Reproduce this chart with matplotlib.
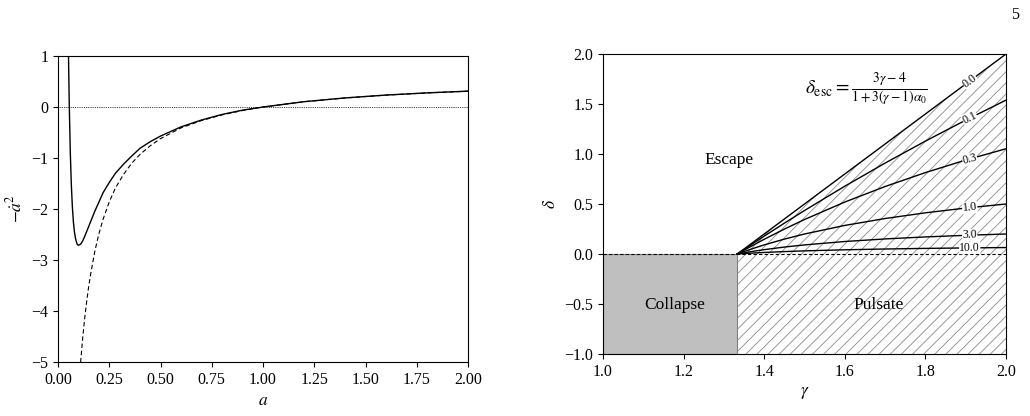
import numpy as np
import matplotlib
matplotlib.use("Agg")
import matplotlib.pyplot as plt
from matplotlib.patches import Polygon, Rectangle

plt.rcParams['font.family'] = ['Liberation Serif', 'DejaVu Serif']
plt.rcParams['mathtext.fontset'] = 'stix'
plt.rcParams['font.size'] = 11.5
plt.rcParams['hatch.linewidth'] = 0.6
plt.rcParams['axes.linewidth'] = 0.8

# left panel: -adot^2 against a
a_full = [0.050, 0.052, 0.055, 0.060, 0.065, 0.070, 0.075, 0.080, 0.085, 0.090,
          0.095, 0.100, 0.110, 0.120, 0.130, 0.140, 0.160, 0.180, 0.200, 0.220,
          0.250, 0.280, 0.320, 0.360, 0.400, 0.450, 0.500, 0.600, 0.700, 0.800,
          0.900, 1.000, 1.200, 1.400, 1.600, 1.800, 2.000]
adot_full = [1.40, 0.78, 0.03, -0.89, -1.52, -1.95, -2.25, -2.44, -2.57, -2.65,
             -2.70, -2.71, -2.69, -2.63, -2.54, -2.44, -2.24, -2.04, -1.86, -1.68,
             -1.48, -1.30, -1.12, -0.96, -0.81, -0.68, -0.57, -0.39, -0.255, -0.146,
             -0.062, 0.0, 0.104, 0.178, 0.234, 0.277, 0.311]

a_approx = [0.105, 0.110, 0.120, 0.130, 0.140, 0.150, 0.160, 0.180, 0.200, 0.220,
            0.250, 0.280, 0.320, 0.360, 0.400, 0.450, 0.500, 0.600, 0.700, 0.800,
            0.900, 1.000, 1.200, 1.400, 1.600, 1.800, 2.000]
adot_approx = [-5.29, -5.02, -4.55, -4.15, -3.81, -3.51, -3.26, -2.82, -2.48, -2.20,
               -1.86, -1.59, -1.32, -1.10, -0.93, -0.76, -0.62, -0.41, -0.266, -0.155,
               -0.069, 0.0, 0.103, 0.177, 0.233, 0.276, 0.310]

# right panel: escape threshold curves for several alpha_0
gamma = [1.3333, 1.35, 1.375, 1.4, 1.45, 1.5, 1.6, 1.7, 1.8, 1.9, 2.0]
alpha0_labels = ['0.0', '0.1', '0.3', '1.0', '3.0', '10.0']
delta_esc = [
    [0, 0.050, 0.125, 0.200, 0.350, 0.500, 0.800, 1.100, 1.400, 1.700, 2.000],
    [0, 0.0452, 0.1124, 0.1786, 0.3084, 0.4348, 0.6780, 0.9091, 1.1290, 1.3386, 1.5385],
    [0, 0.0380, 0.0935, 0.1471, 0.2491, 0.3448, 0.5195, 0.6748, 0.8140, 0.9392, 1.0526],
    [0, 0.0244, 0.0588, 0.0909, 0.1489, 0.2000, 0.2857, 0.3548, 0.4118, 0.4595, 0.5000],
    [0, 0.0120, 0.0286, 0.0435, 0.0693, 0.0909, 0.1250, 0.1507, 0.1707, 0.1868, 0.2000],
    [0, 0.0043, 0.0102, 0.0154, 0.0241, 0.0313, 0.0421, 0.0500, 0.0560, 0.0607, 0.0645],
]
label_gamma = 1.91


def fmt(vals, spec):
    return [(spec % v).replace('-', '\u2212') for v in vals]


fig = plt.figure(figsize=(10.3, 4.16), dpi=100)

# ---- left panel ----
ax1 = fig.add_axes([58/1030, 54/416, 410/1030, 306/416])
ax1.plot(a_full, adot_full, color='black', lw=1.0)
ax1.plot(a_approx, adot_approx, color='black', lw=0.8, ls=(0, (4, 2.5)))
ax1.axhline(0, color='black', lw=0.6, ls=(0, (1, 1.2)))
ax1.set_xlim(0, 2)
ax1.set_ylim(-5, 1)
xt = np.arange(0, 2.01, 0.25)
ax1.set_xticks(xt)
ax1.set_xticklabels(fmt(xt, '%.2f'))
ax1.set_yticks(range(-5, 2))
ax1.set_xlabel('$a$', fontsize=12.5)
ax1.set_ylabel(r'$-\dot{a}^2$', fontsize=12.5)

# ---- right panel ----
ax2 = fig.add_axes([603/1030, 62/416, 403/1030, 300/416])
ax2.set_xlim(1.0, 2.0)
ax2.set_ylim(-1.0, 2.0)

g0 = gamma[0]
ax2.add_patch(Rectangle((1.0, -1.0), g0 - 1.0, 1.0, facecolor='#bfbfbf',
                        edgecolor='#808080', lw=0.8, zorder=1))
verts = [(g0, -1.0), (2.0, -1.0)] + list(zip(gamma[::-1], delta_esc[0][::-1]))
ax2.add_patch(Polygon(verts, closed=True, facecolor='none', edgecolor='#8a8a8a',
                      hatch='///', lw=0, zorder=1))
ax2.plot([1.0, 2.0], [0, 0], color='black', lw=0.8, ls=(0, (3, 2)), zorder=2)

for vals, lab in zip(delta_esc, alpha0_labels):
    ax2.plot(gamma, vals, color='black', lw=1.0, zorder=3)

fig.canvas.draw()
for vals, lab in zip(delta_esc, alpha0_labels):
    p1 = ax2.transData.transform((gamma[-2], vals[-2]))
    p2 = ax2.transData.transform((gamma[-1], vals[-1]))
    ang = np.degrees(np.arctan2(p2[1] - p1[1], p2[0] - p1[0]))
    yv = vals[-2] + (vals[-1] - vals[-2]) * (label_gamma - gamma[-2]) / (gamma[-1] - gamma[-2])
    ax2.text(label_gamma, yv, lab, fontsize=8.5, rotation=ang, rotation_mode='anchor',
             ha='center', va='center', zorder=4,
             bbox=dict(facecolor='white', edgecolor='none', pad=0.2))

ax2.text(1.655, 1.64, r'$\delta_{\rm esc} = \frac{3\gamma-4}{1+3(\gamma-1)\alpha_0}$',
         fontsize=14, ha='center', va='center')
ax2.text(1.313, 0.94, 'Escape', fontsize=12.5, ha='center', va='center')
ax2.text(1.177, -0.51, 'Collapse', fontsize=12.5, ha='center', va='center')
ax2.text(1.683, -0.51, 'Pulsate', fontsize=12.5, ha='center', va='center', zorder=4)

xt2 = np.arange(1.0, 2.01, 0.2)
yt2 = np.arange(-1.0, 2.01, 0.5)
ax2.set_xticks(xt2)
ax2.set_xticklabels(fmt(xt2, '%.1f'))
ax2.set_yticks(yt2)
ax2.set_yticklabels(fmt(np.where(np.abs(yt2) < 1e-9, 0.0, yt2), '%.1f'))
ax2.set_xlabel(r'$\gamma$', fontsize=12.5)
ax2.set_ylabel(r'$\delta$', fontsize=12.5)

fig.text(1015/1030, 1 - 15/416, '5', fontsize=11.5, ha='center', va='center')

fig.savefig('out.png', dpi=100)
